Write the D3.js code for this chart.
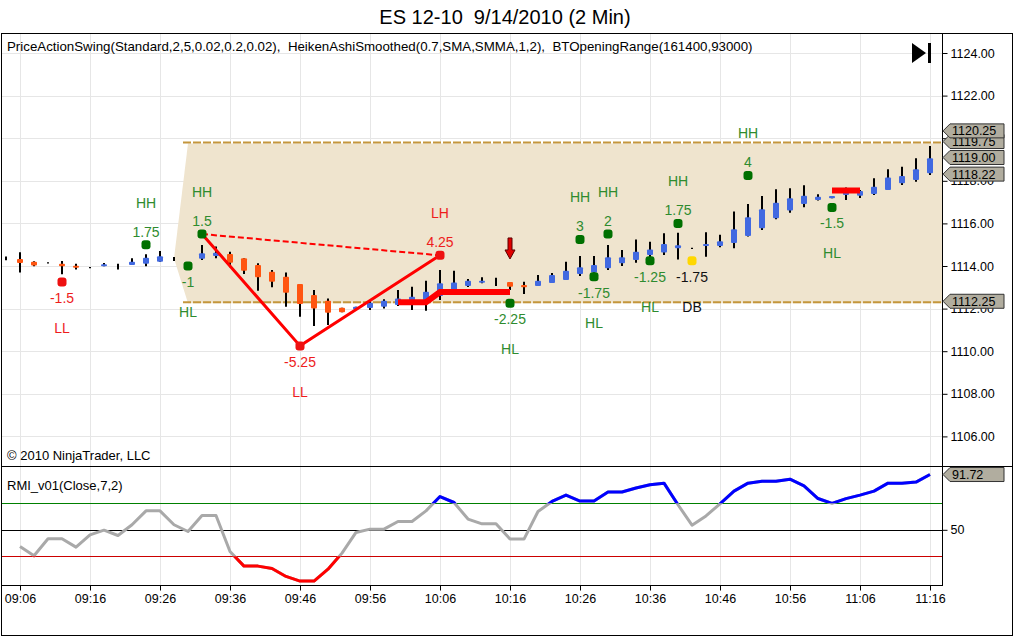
<!DOCTYPE html>
<html>
<head>
<meta charset="utf-8">
<script src="https://cdn.jsdelivr.net/npm/d3@7"></script>
<style>
body { margin: 0; background: #fff; }
svg { font-family: "Liberation Sans", Arial, sans-serif; }
</style>
</head>
<body>
<svg id="chart" width="1016" height="637"></svg>
<script>
// bar times (2 min bars)
var barTimes = ["09:04","09:06","09:08","09:10","09:12","09:14","09:16","09:18","09:20","09:22","09:24","09:26","09:28","09:30",
  "09:32","09:34","09:36","09:38","09:40","09:42","09:44","09:46","09:48","09:50","09:52","09:54","09:56","09:58",
  "10:00","10:02","10:04","10:06","10:08","10:10","10:12","10:14","10:16","10:18","10:20","10:22","10:24","10:26",
  "10:28","10:30","10:32","10:34","10:36","10:38","10:40","10:42","10:44","10:46","10:48","10:50","10:52","10:54",
  "10:56","10:58","11:00","11:02","11:04","11:06","11:08","11:10","11:12","11:14","11:16"];

// Heiken Ashi smoothed bars
var haOpen  = [1114.36,1114.33,1114.20,1114.15,1114.11,1114.01,1113.92,1113.99,1113.97,1114.05,1114.11,1114.20,1114.33,1114.00,
  1114.34,1114.47,1114.56,1114.36,1114.05,1113.73,1113.50,1113.16,1112.64,1112.37,1112.04,1111.97,1112.03,1112.09,
  1112.17,1112.22,1112.40,1112.59,1112.87,1113.06,1113.22,1113.25,1113.25,1113.11,1113.06,1113.20,1113.34,1113.62,
  1113.69,1113.89,1114.13,1114.28,1114.52,1114.63,1114.83,1114.83,1114.94,1114.94,1115.08,1115.41,1115.77,1116.24,
  1116.60,1116.91,1117.10,1117.18,1117.33,1117.30,1117.38,1117.57,1117.88,1118.04,1118.35];
var haHigh  = [1114.45,1114.64,1114.22,1114.18,1114.23,1114.11,1113.95,1114.14,1114.11,1114.36,1114.55,1114.70,1114.42,1114.15,
  1114.99,1114.91,1114.67,1114.36,1114.13,1113.81,1113.70,1113.16,1112.87,1112.48,1112.04,1112.09,1112.37,1112.44,
  1112.87,1113.03,1113.31,1113.81,1113.78,1113.39,1113.47,1113.45,1113.25,1113.26,1113.58,1113.67,1114.20,1114.47,
  1114.47,1114.99,1114.75,1115.25,1115.14,1115.54,1115.56,1114.86,1115.58,1115.47,1116.56,1116.91,1117.29,1117.60,
  1117.65,1117.79,1117.37,1117.29,1117.69,1117.57,1118.12,1118.54,1118.66,1119.06,1119.63];
var haLow   = [1114.27,1113.70,1113.99,1114.12,1113.61,1113.83,1113.89,1113.99,1113.83,1114.05,1113.99,1114.20,1114.23,1113.95,
  1114.28,1114.36,1113.94,1113.62,1112.84,1113.00,1112.09,1111.62,1111.18,1111.23,1111.83,1111.97,1111.93,1112.01,
  1112.12,1111.93,1111.90,1112.40,1112.64,1113.01,1113.19,1113.06,1112.87,1112.69,1113.06,1113.20,1113.34,1113.53,
  1113.53,1113.81,1114.00,1114.15,1114.13,1114.52,1114.31,1114.80,1114.44,1114.88,1114.83,1115.38,1115.69,1116.19,
  1116.50,1116.76,1117.07,1117.18,1117.10,1117.19,1117.33,1117.57,1117.80,1117.96,1118.27];
var haClose = [1114.36,1114.14,1114.02,1114.15,1113.99,1113.92,1113.92,1114.08,1113.97,1114.20,1114.39,1114.46,1114.33,1114.10,
  1114.60,1114.62,1114.15,1113.78,1113.47,1113.26,1112.75,1112.22,1112.01,1111.81,1111.83,1112.09,1112.28,1112.37,
  1112.48,1112.56,1112.79,1113.19,1113.23,1113.31,1113.31,1113.25,1113.03,1113.00,1113.31,1113.58,1113.78,1113.94,
  1114.05,1114.41,1114.41,1114.67,1114.78,1115.03,1114.97,1114.83,1115.03,1115.16,1115.72,1116.29,1116.66,1116.97,
  1117.18,1117.30,1117.25,1117.29,1117.49,1117.52,1117.72,1118.16,1118.23,1118.54,1119.06];

// RMI (09:06 .. 11:16)
var rmiTimes = barTimes.slice(1);
var rmiValues = [37.4,30.4,43.2,43.2,36.9,46.2,49.7,45.7,53.8,64.3,64.3,53.8,48.7,60.8,60.8,33.6,22.6,22.6,20.8,14.8,
  11.3,11.3,20.3,32.4,48.0,50.5,50.5,56.3,56.3,64.3,75.1,70.6,58.1,54.5,54.5,43.0,43.0,63.8,71.4,76.2,71.7,71.7,
  78.5,78.5,81.5,84.0,85.2,68.9,53.5,60.5,69.6,79.2,85.2,86.7,86.7,88.2,83.2,73.6,69.9,73.5,76.2,79.2,85.2,85.2,86.0,91.72];
var rmiLevels = [70, 50, 30];

// swing points
var swingTimes  = ["09:12","09:24","09:30","09:32","09:46","10:06","10:16","10:26","10:28","10:30","10:36","10:40","10:42","10:50","11:02"];
var swingPrices = [1113.25,1115.0,1114.0,1115.5,1110.25,1114.5,1112.25,1115.25,1113.5,1115.5,1114.25,1116.0,1114.25,1118.25,1116.75];
var swingValues = ["-1.5","1.75","-1","1.5","-5.25","4.25","-2.25","3","-1.75","2","-1.25","1.75","-1.75","4","-1.5"];
var swingTypes  = ["LL","HH","HL","HH","LL","LH","HL","HH","HL","HH","HL","HH","DB","HH","HL"];

// zigzag
var zigTimes  = ["09:32","09:46","10:06"];
var zigPrices = [1115.5,1110.25,1114.5];

// opening range
var orTimes = ["09:28","09:30","11:18"];
var orHigh  = [1114.35,1119.75,1119.75];
var orLow   = [1114.35,1112.25,1112.25];

// red stop lines
var stopA_times  = ["10:00","10:02","10:04","10:06","10:08","10:10","10:12","10:14","10:16"];
var stopA_values = [1112.30,1112.30,1112.30,1112.78,1112.78,1112.78,1112.78,1112.78,1112.78];
var stopB_times  = ["11:02","11:04","11:06"];
var stopB_values = [1117.54,1117.54,1117.54];

var arrowTime = "10:16", arrowPrice = 1114.33;

// axis
var priceTicks = [1106,1108,1110,1112,1114,1116,1118,1120,1122,1124];
var timeTicks = ["09:06","09:16","09:26","09:36","09:46","09:56","10:06","10:16","10:26","10:36","10:46","10:56","11:06","11:16"];
var priceMarkers = [1119.75, 1120.25, 1119.00, 1118.22, 1112.25];
var rmiMarker = 91.72;

var L = 1, R = 942, FR = 1013, T = 33, SEP = 466.5, RB = 585, B = 636;

var parseTime = d3.timeParse("%H:%M");
var x = d3.scaleTime().domain([parseTime("09:06"), parseTime("11:16")]).range([20, 930]);
var y = d3.scaleLinear().domain([1106, 1124]).range([436.4, 53]);
var yR = d3.scaleLinear().domain([30, 70]).range([556.3, 503.3]);

var svg = d3.select("#chart");

svg.append("text")
  .attr("x", 505).attr("y", 24)
  .attr("text-anchor", "middle")
  .style("font-size", "20px")
  .style("white-space", "pre")
  .text("ES 12-10  9/14/2010 (2 Min)");

var defs = svg.append("defs");
defs.append("clipPath").attr("id", "mainClip").append("rect")
  .attr("x", L).attr("y", T).attr("width", R - L).attr("height", SEP - T);
defs.append("clipPath").attr("id", "rmiClip").append("rect")
  .attr("x", L).attr("y", SEP).attr("width", R - L).attr("height", RB - SEP);
defs.append("clipPath").attr("id", "aboveClip").append("rect")
  .attr("x", L).attr("y", SEP).attr("width", R - L).attr("height", yR(70) - SEP);
defs.append("clipPath").attr("id", "belowClip").append("rect")
  .attr("x", L).attr("y", yR(30)).attr("width", R - L).attr("height", RB - yR(30));

// grid
var grid = svg.append("g").attr("stroke", "#e6e6e6").attr("stroke-width", 1);
timeTicks.forEach(function (t) {
  var gx = Math.round(x(parseTime(t))) + 0.5;
  grid.append("line").attr("x1", gx).attr("x2", gx).attr("y1", T).attr("y2", RB);
});
priceTicks.forEach(function (p) {
  var gy = Math.round(y(p)) + 0.5;
  grid.append("line").attr("x1", L).attr("x2", R).attr("y1", gy).attr("y2", gy);
});

var main = svg.append("g").attr("clip-path", "url(#mainClip)");

// opening range band
var orData = orTimes.map(function (t, i) { return {t: parseTime(t), hi: orHigh[i], lo: orLow[i]}; });
main.append("path")
  .datum(orData)
  .attr("fill", "#efe4ce")
  .attr("d", d3.area().x(d => x(d.t)).y0(d => y(d.lo)).y1(d => y(d.hi)));
[orHigh, orLow].forEach(function (arr) {
  main.append("line")
    .attr("x1", x(parseTime(orTimes[1])) - 5).attr("x2", x(parseTime(orTimes[2])))
    .attr("y1", y(arr[1]) - 1).attr("y2", y(arr[1]) - 1)
    .attr("stroke", "#c4963c").attr("stroke-width", 2)
    .attr("stroke-dasharray", "8,2");
});

// candles
var bars = barTimes.map(function (t, i) {
  return {t: parseTime(t), o: haOpen[i], h: haHigh[i], l: haLow[i], c: haClose[i]};
});
var cg = main.append("g");
cg.selectAll(".wick").data(bars).enter().append("line")
  .attr("x1", d => x(d.t)).attr("x2", d => x(d.t))
  .attr("y1", d => y(d.h)).attr("y2", d => y(d.l))
  .attr("stroke", "#000").attr("stroke-width", 2);
cg.selectAll(".body").data(bars.filter(d => d.o !== d.c)).enter().append("rect")
  .attr("x", d => x(d.t) - 3)
  .attr("width", 6)
  .attr("y", d => y(Math.max(d.o, d.c)))
  .attr("height", d => Math.max(2, Math.abs(y(d.o) - y(d.c))))
  .attr("rx", 1)
  .attr("fill", d => d.c > d.o ? "#4169e1" : "#ff5511");

// red stop lines
var stopLine = d3.line().x(d => x(d.t)).y(d => y(d.v));
[[stopA_times, stopA_values], [stopB_times, stopB_values]].forEach(function (s) {
  main.append("path")
    .datum(s[0].map(function (t, i) { return {t: parseTime(t), v: s[1][i]}; }))
    .attr("fill", "none").attr("stroke", "#ff0000").attr("stroke-width", 6)
    .attr("d", stopLine);
});

// zigzag
var zig = zigTimes.map(function (t, i) { return {t: parseTime(t), v: zigPrices[i]}; });
main.append("path")
  .datum([zig[0], zig[2]])
  .attr("fill", "none").attr("stroke", "#ff0000").attr("stroke-width", 2)
  .attr("stroke-dasharray", "6,3")
  .attr("d", stopLine);
main.append("path")
  .datum(zig)
  .attr("fill", "none").attr("stroke", "#ff0000").attr("stroke-width", 3)
  .attr("d", stopLine);

// arrow
var ax = x(parseTime(arrowTime)), ay = y(arrowPrice);
main.append("path")
  .attr("transform", "translate(" + ax + "," + ay + ")")
  .attr("d", "M0,0 L-5,-9 L-2,-9 L-2,-21 L2,-21 L2,-9 L5,-9 Z")
  .attr("fill", "#e00000").attr("stroke", "#5a0000").attr("stroke-width", 1);

// swing points
var swings = swingTimes.map(function (t, i) {
  return {t: parseTime(t), p: swingPrices[i], val: swingValues[i], type: swingTypes[i]};
});
function swingColor(d) {
  if (d.type === "DB") return "#111";
  return (d.type === "LL" || d.type === "LH") ? "#ee1c1c" : "#2e8b2e";
}
function isHigh(d) { return d.type === "HH" || d.type === "LH"; }
var sg = main.append("g");
sg.selectAll("rect").data(swings).enter().append("rect")
  .attr("x", d => x(d.t) - 4.5).attr("y", d => y(d.p) - 4.5)
  .attr("width", 9).attr("height", 9).attr("rx", 3)
  .attr("fill", d => d.type === "DB" ? "#ffd700" : ((d.type === "LL" || d.type === "LH") ? "#ee1111" : "#007000"));
sg.selectAll(".val").data(swings).enter().append("text")
  .attr("x", d => x(d.t))
  .attr("y", d => y(d.p) + (isHigh(d) ? -13 : 16))
  .attr("dy", "0.35em")
  .attr("text-anchor", "middle")
  .style("font-size", "14px")
  .attr("fill", swingColor)
  .text(d => d.val);
sg.selectAll(".typ").data(swings).enter().append("text")
  .attr("x", d => x(d.t))
  .attr("y", d => y(d.p) + (isHigh(d) ? -42 : 46))
  .attr("dy", "0.35em")
  .attr("text-anchor", "middle")
  .style("font-size", "14px")
  .attr("fill", swingColor)
  .text(d => d.type);

// RMI panel
var rmi = svg.append("g").attr("clip-path", "url(#rmiClip)");
var rmiLevelColors = ["#008000", "#000000", "#cc0000"];
rmiLevels.forEach(function (v, i) {
  var ly = Math.round(yR(v)) + 0.5;
  rmi.append("line").attr("x1", L).attr("x2", R).attr("y1", ly).attr("y2", ly)
    .attr("stroke", rmiLevelColors[i]).attr("stroke-width", 1);
});
var rmiData = rmiTimes.map(function (t, i) { return {t: parseTime(t), v: rmiValues[i]}; });
var rmiLine = d3.line().x(d => x(d.t)).y(d => yR(d.v));
[["#a9a9a9", null], ["#0000ff", "url(#aboveClip)"], ["#ff0000", "url(#belowClip)"]].forEach(function (s) {
  rmi.append("path").datum(rmiData)
    .attr("fill", "none").attr("stroke", s[0]).attr("stroke-width", 3)
    .attr("stroke-linejoin", "round")
    .attr("clip-path", s[1])
    .attr("d", rmiLine);
});

// frame
var frame = svg.append("g").attr("stroke", "#000").attr("stroke-width", 1).attr("fill", "none");
frame.append("rect").attr("x", L + 0.5).attr("y", T + 0.5).attr("width", FR - L - 1).attr("height", B - T - 1);
frame.append("line").attr("x1", L).attr("x2", FR).attr("y1", SEP).attr("y2", SEP);
frame.append("line").attr("x1", R + 0.5).attr("x2", R + 0.5).attr("y1", T).attr("y2", RB);
frame.append("line").attr("x1", L).attr("x2", R + 1).attr("y1", RB + 0.5).attr("y2", RB + 0.5);

// axes
var yAxis = svg.append("g")
  .attr("transform", "translate(" + (R + 0.5) + ",0)")
  .call(d3.axisRight(y).tickValues(priceTicks).tickSize(5).tickPadding(3).tickFormat(d3.format(".2f")));
var rAxis = svg.append("g")
  .attr("transform", "translate(" + (R + 0.5) + ",0)")
  .call(d3.axisRight(yR).tickValues([50]).tickSize(5).tickPadding(3));
var xAxis = svg.append("g")
  .attr("transform", "translate(0," + (RB + 0.5) + ")")
  .call(d3.axisBottom(x).tickValues(timeTicks.map(parseTime)).tickSize(5).tickPadding(4).tickFormat(d3.timeFormat("%H:%M")));
[yAxis, rAxis, xAxis].forEach(function (a) {
  a.select(".domain").remove();
  a.selectAll("text").style("font-size", "12.5px").style("font-family", "'Liberation Sans', Arial, sans-serif").attr("fill", "#000");
  a.selectAll("line").attr("stroke", "#000");
});

// value markers on the price axis
function marker(g, yy, label) {
  g.append("path")
    .attr("d", "M" + (R + 1) + "," + yy + " L" + (R + 8) + "," + (yy - 7) + " L" + (R + 62) + "," + (yy - 7) +
      " L" + (R + 62) + "," + (yy + 7) + " L" + (R + 8) + "," + (yy + 7) + " Z")
    .attr("fill", "#b1ad9f").attr("stroke", "#333").attr("stroke-width", 1);
  g.append("text")
    .attr("x", R + 10).attr("y", yy).attr("dy", "0.36em")
    .style("font-size", "12.5px")
    .text(label);
}
var mk = svg.append("g");
priceMarkers.forEach(function (v) { marker(mk, y(v) - 2, d3.format(".2f")(v)); });
marker(mk, yR(rmiMarker), d3.format(".2f")(rmiMarker));

// end icon
svg.append("path").attr("d", "M912,43 L926,53 L912,63 Z").attr("fill", "#000");
svg.append("rect").attr("x", 928).attr("y", 43).attr("width", 3).attr("height", 20).attr("fill", "#000");

// labels
svg.append("text")
  .attr("x", 7).attr("y", 51)
  .style("font-size", "13.3px")
  .style("white-space", "pre")
  .text("PriceActionSwing(Standard,2,5,0.02,0.2,0.02),  HeikenAshiSmoothed(0.7,SMA,SMMA,1,2),  BTOpeningRange(161400,93000)");
svg.append("text")
  .attr("x", 7).attr("y", 460)
  .style("font-size", "13px")
  .text("\u00a9 2010 NinjaTrader, LLC");
svg.append("text")
  .attr("x", 7).attr("y", 490)
  .style("font-size", "13px")
  .text("RMI_v01(Close,7,2)");
</script>
</body>
</html>
